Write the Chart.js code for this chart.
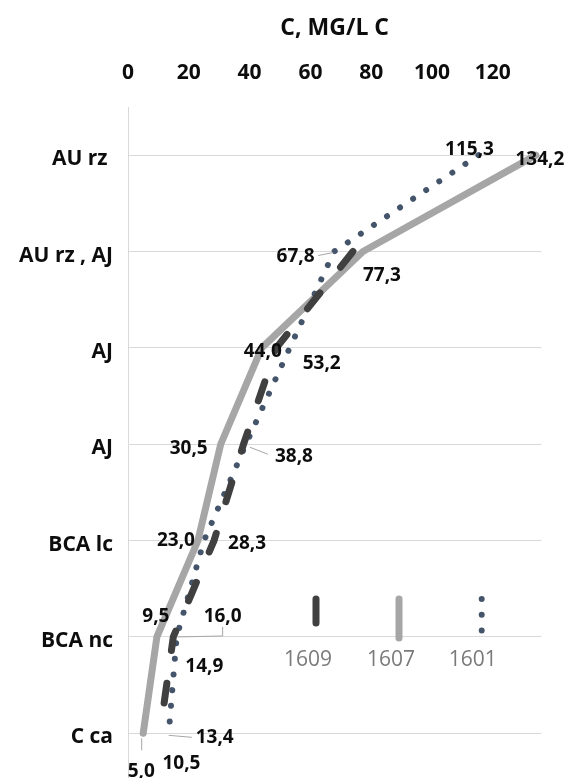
<!DOCTYPE html>
<html>
<head>
<meta charset="utf-8">
<script src="https://cdn.jsdelivr.net/npm/chart.js@4/dist/chart.umd.min.js"></script>
<style>
  html, body { margin: 0; padding: 0; background: #ffffff; overflow: hidden; }
  #wrap { width: 567px; height: 790px; }
</style>
</head>
<body>
<div id="wrap"><canvas id="c" width="567" height="790"></canvas></div>
<script>
// Depth profile: horizons down the vertical axis, concentration along the top axis
const categories = ['AU rz ', 'AU rz , AJ', 'AJ', 'AJ', 'BCA lc', 'BCA nc', 'C ca'];
const seriesNames = ['1609', '1607', '1601'];
const values1609 = [null, 74.0, 48.8, 38.0, 28.3, 14.9, 10.5];
const values1607 = [134.2, 77.3, 44.0, 30.5, 23.0, 9.5, 5.0];
const values1601 = [115.3, 67.8, 53.2, 38.8, 25.0, 16.0, 13.4];
const xTickValues = [0, 20, 40, 60, 80, 100, 120];
const axisTitle = 'C, MG/L C';

// Where each value label sits relative to its point (pixels), with optional leader line
const labelPlacement = {
  '1609': {
    4: { dx: 33, dy: 2 },
    5: { dx: 31, dy: 29 },
    6: { dx: 21.5, dy: 29.5 }
  },
  '1607': {
    0: { dx: 4, dy: 3 },
    1: { dx: 19, dy: 23.5 },
    2: { dx: 1, dy: 3 },
    3: { dx: -32, dy: 3 },
    4: { dx: -22, dy: -1 },
    5: { dx: -1, dy: -21 },
    6: { dx: -2, dy: 37, leader: [[-1.5, 5], [-1.5, 17]] }
  },
  '1601': {
    0: { dx: -9, dy: -7 },
    1: { dx: -38.5, dy: 4.5, leader: [[-16, 4], [-1, 1]] },
    2: { dx: 32, dy: 15 },
    3: { dx: 48, dy: 11.5, leader: [[4, 3], [22, 10]] },
    5: { dx: 46, dy: -21, leader: [[1, 0], [46, -1], [46, -10]] },
    6: { dx: 46, dy: 3.5, leader: [[0, 2], [23, 4]] }
  }
};

const FONT = "'Open Sans', 'Liberation Sans', sans-serif";
Chart.defaults.font.family = FONT;

const valueLabels = {
  id: 'valueLabels',
  afterDatasetsDraw(chart) {
    const ctx = chart.ctx;
    ctx.save();
    chart.data.datasets.forEach((ds, di) => {
      const meta = chart.getDatasetMeta(di);
      const place = labelPlacement[ds.label] || {};
      Object.keys(place).forEach(key => {
        const i = Number(key);
        const p = place[i];
        const el = meta.data[i];
        const v = ds.data[i];
        if (!el || v == null) return;
        if (p.leader) {
          ctx.beginPath();
          p.leader.forEach(([lx, ly], j) => {
            if (j === 0) ctx.moveTo(el.x + lx, el.y + ly);
            else ctx.lineTo(el.x + lx, el.y + ly);
          });
          ctx.strokeStyle = '#a6a6a6';
          ctx.lineWidth = 1;
          ctx.setLineDash([]);
          ctx.stroke();
        }
        ctx.font = 'bold 19px ' + FONT;
        ctx.fillStyle = '#0d0d0d';
        ctx.textAlign = 'center';
        ctx.textBaseline = 'middle';
        ctx.fillText(v.toFixed(1).replace('.', ','), el.x + p.dx, el.y + p.dy + 1);
      });
    });
    ctx.restore();
  }
};

// Legend drawn as vertical line samples with the series name underneath
const verticalLegend = {
  id: 'verticalLegend',
  afterDraw(chart, args, opts) {
    const ctx = chart.ctx;
    ctx.save();
    opts.items.forEach(item => {
      const ds = chart.data.datasets.find(d => d.label === item.name);
      ctx.beginPath();
      ctx.moveTo(item.x, item.y0);
      ctx.lineTo(item.x, item.y1);
      ctx.strokeStyle = ds.borderColor;
      ctx.lineWidth = ds.borderWidth;
      ctx.lineCap = 'round';
      ctx.setLineDash(item.dash ? ds.borderDash : []);
      ctx.stroke();
      ctx.setLineDash([]);
      ctx.font = '21px ' + FONT;
      ctx.fillStyle = '#7a7a7a';
      ctx.textAlign = 'center';
      ctx.textBaseline = 'middle';
      ctx.fillText(item.name, item.x + item.textDx, opts.textY);
    });
    ctx.restore();
  }
};

new Chart(document.getElementById('c'), {
  type: 'line',
  data: {
    labels: categories,
    datasets: [
      {
        label: seriesNames[0],
        data: values1609,
        borderColor: '#404040',
        borderWidth: 7,
        borderDash: [20, 33],
        borderCapStyle: 'round',
        borderJoinStyle: 'round',
        pointRadius: 0,
        order: 0
      },
      {
        label: seriesNames[1],
        data: values1607,
        borderColor: '#a6a6a6',
        borderWidth: 7,
        borderCapStyle: 'round',
        borderJoinStyle: 'round',
        pointRadius: 0,
        order: 2
      },
      {
        label: seriesNames[2],
        data: values1601,
        borderColor: '#44546a',
        borderWidth: 6,
        borderDash: [0.01, 15.7],
        borderCapStyle: 'round',
        borderJoinStyle: 'round',
        pointRadius: 0,
        order: 1
      }
    ]
  },
  options: {
    indexAxis: 'y',
    responsive: false,
    animation: false,
    devicePixelRatio: 1,
    layout: { padding: { left: 0, right: 25.6, top: 0, bottom: 8.5 } },
    scales: {
      x: {
        type: 'linear',
        position: 'top',
        min: 0,
        max: 136,
        grid: { display: false, drawTicks: false },
        border: { display: false },
        ticks: {
          padding: 21,
          color: '#0d0d0d',
          font: { size: 21, weight: 'bold' }
        },
        title: {
          display: true,
          text: axisTitle,
          color: '#0d0d0d',
          font: { size: 23, weight: 'bold' },
          padding: { top: 15, bottom: 0 }
        },
        afterBuildTicks(scale) {
          scale.ticks = xTickValues.map(v => ({ value: v }));
        },
        afterFit(scale) {
          scale.height = 107;
          scale.paddingLeft = 0;
          scale.paddingRight = 0;
        }
      },
      y: {
        type: 'category',
        offset: true,
        grid: { color: '#d9d9d9', lineWidth: 1, drawTicks: false },
        border: { display: true, color: '#d9d9d9', width: 1 },
        ticks: {
          padding: 15,
          labelOffset: 4,
          color: '#0d0d0d',
          font: { size: 21, weight: 'bold' }
        },
        afterFit(scale) {
          scale.width = 128;
          scale.paddingTop = 0;
          scale.paddingBottom = 0;
        }
      }
    },
    plugins: {
      legend: { display: false },
      tooltip: { enabled: false },
      verticalLegend: {
        textY: 660,
        items: [
          { name: '1609', x: 316, y0: 599, y1: 623, dash: false, textDx: -8 },
          { name: '1607', x: 399, y0: 599, y1: 638, dash: false, textDx: -8 },
          { name: '1601', x: 481.7, y0: 599, y1: 632, dash: true, textDx: -9 }
        ]
      }
    }
  },
  plugins: [valueLabels, verticalLegend]
});
</script>
</body>
</html>
